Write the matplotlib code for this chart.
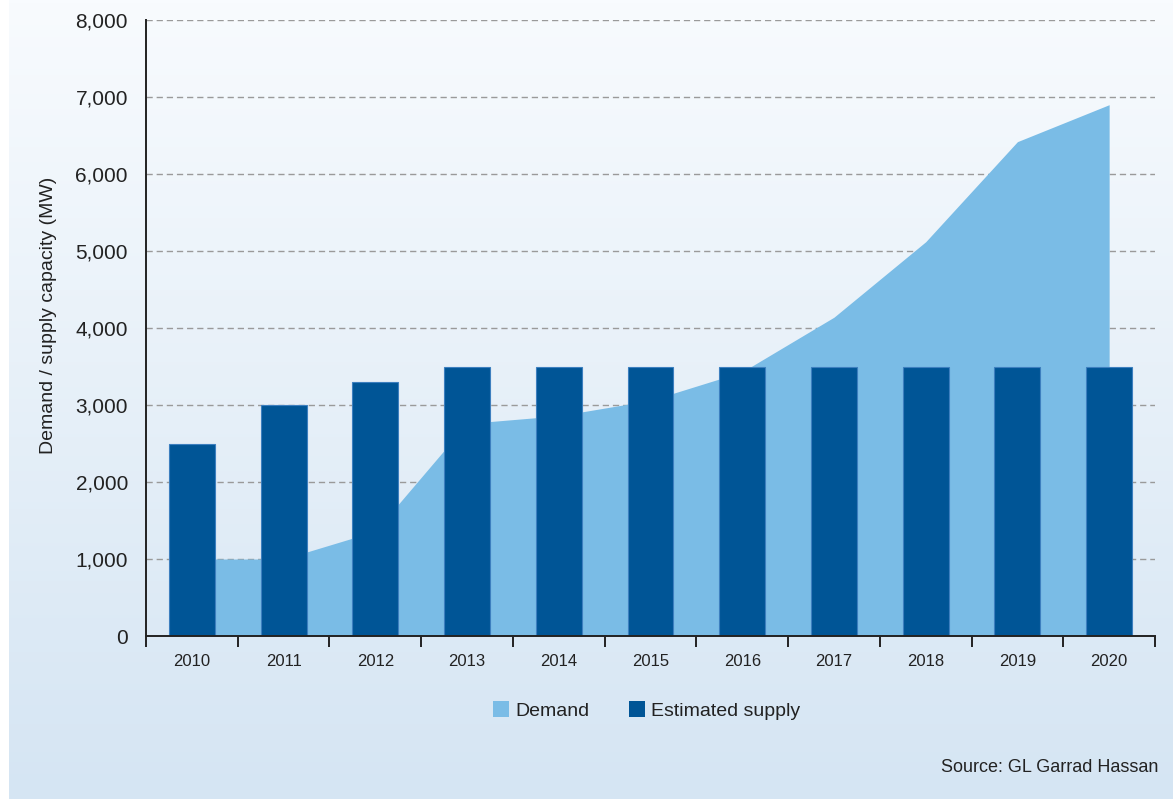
import numpy as np
import matplotlib
matplotlib.use("Agg")
import matplotlib.pyplot as plt
from matplotlib.lines import Line2D
from matplotlib.ticker import FuncFormatter, FixedLocator, NullFormatter

plt.rcParams['font.family'] = ['Liberation Sans', 'DejaVu Sans']

# Data
years = ["2010", "2011", "2012", "2013", "2014", "2015",
         "2016", "2017", "2018", "2019", "2020"]
demand = [1000, 1000, 1360, 2760, 2860, 3060, 3430, 4140, 5120, 6420, 6900]
supply = [2500, 3000, 3300, 3500, 3500, 3500, 3500, 3500, 3500, 3500, 3500]
y_ticks = [0, 1000, 2000, 3000, 4000, 5000, 6000, 7000, 8000]

DEMAND_COLOR = "#7abce6"
SUPPLY_COLOR = "#005596"

W, H = 1173, 799
fig = plt.figure(figsize=(W / 100, H / 100), dpi=100)
fig.patch.set_facecolor("white")

# Gradient panel behind the chart
bg = fig.add_axes([9 / W, 0, 1 - 9 / W, 1])
top = np.array([248, 251, 254]) / 255
bottom = np.array([213, 229, 243]) / 255
t = np.linspace(0, 1, 256)[:, None]
grad = top[None, :] * (1 - t) + bottom[None, :] * t
bg.imshow(grad[:, None, :], aspect="auto", extent=[0, 1, 0, 1])
bg.set_axis_off()
bg.set_zorder(-10)

ax = fig.add_axes([146 / W, 1 - 636 / H, (1155 - 146) / W, (636 - 20) / H])
ax.patch.set_alpha(0)

x = np.arange(len(years))
ax.fill_between(x, demand, 0, color=DEMAND_COLOR, linewidth=0, zorder=2)
ax.bar(x, supply, width=0.5, color=SUPPLY_COLOR, edgecolor="#3d7fbf",
       linewidth=0.8, zorder=3)

ax.set_xlim(-0.5, len(years) - 0.5)
ax.set_ylim(0, 8000)

# y axis
ax.set_yticks(y_ticks)
ax.yaxis.set_major_formatter(FuncFormatter(lambda v, p: f"{int(v):,}"))
ax.tick_params(axis="y", length=0, pad=13, labelsize=15, colors="#222222")
for v in y_ticks[1:]:
    ax.axhline(v, color="#9a9a9a", linewidth=1.0, linestyle=(0, (4.5, 2.8)),
               zorder=1)

# x axis: ticks between categories, labels centred
ax.xaxis.set_major_locator(FixedLocator(np.arange(-0.5, len(years), 1.0)))
ax.xaxis.set_major_formatter(NullFormatter())
ax.xaxis.set_minor_locator(FixedLocator(x))
ax.set_xticklabels(years, minor=True)
ax.tick_params(axis="x", which="major", length=8, width=1.4,
               color="#222222", direction="out")
ax.tick_params(axis="x", which="minor", length=0, pad=13, labelsize=12,
               labelcolor="#222222")

for s in ["top", "right"]:
    ax.spines[s].set_visible(False)
for s in ["left", "bottom"]:
    ax.spines[s].set_color("#222222")
    ax.spines[s].set_linewidth(1.4)
    ax.spines[s].set_zorder(5)

ax.set_ylabel("Demand / supply capacity (MW)", fontsize=14, color="#222222")
ax.yaxis.set_label_coords(-0.088, 0.52)

# Legend
handles = [
    Line2D([], [], marker="s", linestyle="none", markersize=11,
           markerfacecolor=DEMAND_COLOR, markeredgewidth=0, label="Demand"),
    Line2D([], [], marker="s", linestyle="none", markersize=11,
           markerfacecolor=SUPPLY_COLOR, markeredgewidth=0,
           label="Estimated supply"),
]
fig.legend(handles=handles, loc="center", bbox_to_anchor=(647 / W, 1 - 711 / H),
           ncol=2, frameon=False, handlelength=0.75, handletextpad=0.35,
           columnspacing=2.1, prop={"size": 14})
for txt in fig.legends[0].get_texts():
    txt.set_color("#222222")

fig.text(1158 / W, 1 - 767 / H, "Source: GL Garrad Hassan", ha="right",
         va="center", fontsize=13, color="#222222")

fig.savefig("out.png", dpi=100)
